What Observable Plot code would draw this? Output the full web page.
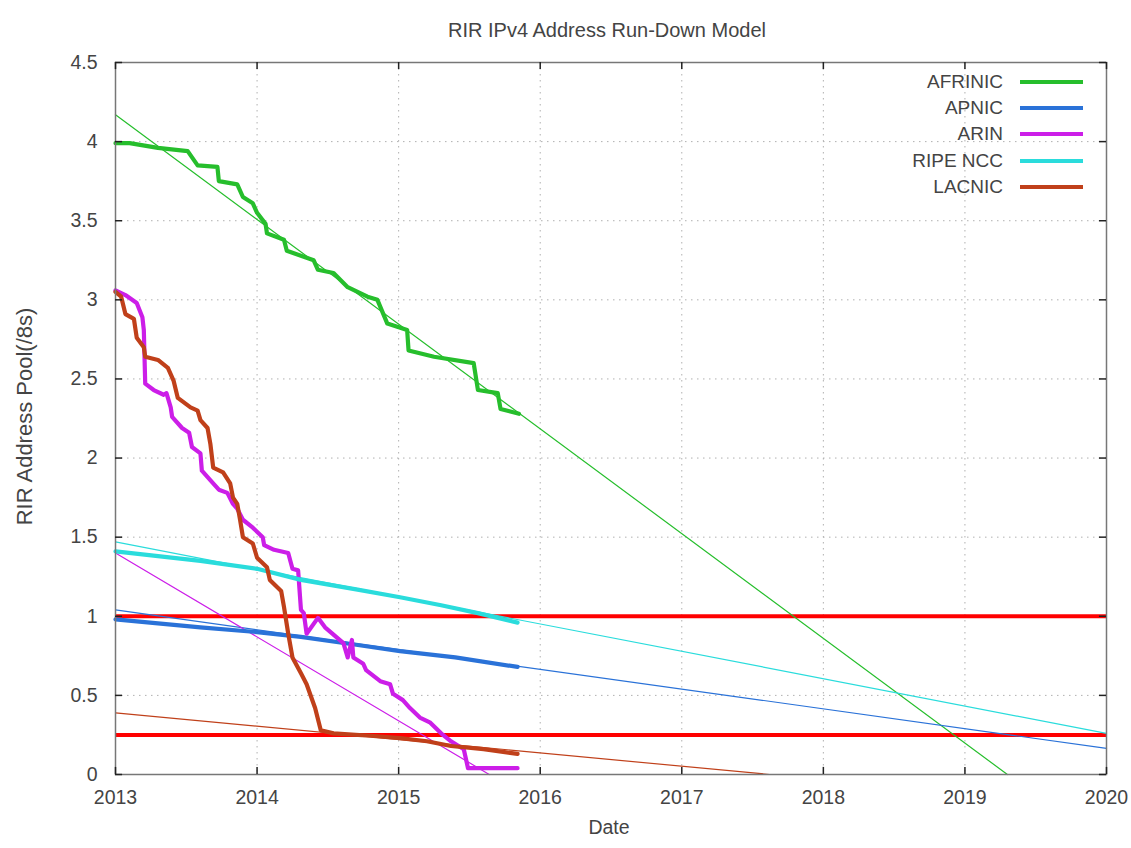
<!DOCTYPE html>
<html>
<head>
<meta charset="utf-8">
<script src="https://cdn.jsdelivr.net/npm/d3@7"></script>
<script src="https://cdn.jsdelivr.net/npm/@observablehq/plot@0.6"></script>
<style>
  body { margin: 0; background: #fff; }
  #wrap { position: relative; width: 1131px; height: 848px; font-family: "Liberation Sans", Arial, sans-serif; }
  .legrow { position: absolute; left: 880px; width: 210px; height: 26px; display: flex; align-items: center; }
  .leglab { width: 123px; text-align: right; font-size: 19px; color: #444; }
  .legline { margin-left: 17px; width: 63px; height: 4px; }
</style>
</head>
<body>
<div id="wrap"></div>
<script>
// ---- Data ----
const title = "RIR IPv4 Address Run-Down Model";
const yLabel = "RIR Address Pool(/8s)";
const xLabel = "Date";

const seriesNames = ["AFRINIC", "APNIC", "ARIN", "RIPE NCC", "LACNIC"];
const seriesColors = ["#26be2c", "#2a72d8", "#cc1ee8", "#2adcdc", "#c0401a"];

const xTickYears = [2013, 2014, 2015, 2016, 2017, 2018, 2019, 2020];
const yTickValues = [0, 0.5, 1, 1.5, 2, 2.5, 3, 3.5, 4, 4.5];
const thresholdLevels = [1, 0.25];

// AFRINIC actual pool
const afrinicYear = [2013.00, 2013.10, 2013.30, 2013.51, 2013.58, 2013.72, 2013.73, 2013.86, 2013.90, 2013.97, 2014.00, 2014.06, 2014.07, 2014.19, 2014.21, 2014.40, 2014.43, 2014.54, 2014.64, 2014.78, 2014.85, 2014.92, 2015.06, 2015.07, 2015.25, 2015.53, 2015.56, 2015.70, 2015.72, 2015.85];
const afrinicPool = [3.99, 3.99, 3.96, 3.94, 3.85, 3.84, 3.75, 3.73, 3.65, 3.61, 3.55, 3.48, 3.42, 3.38, 3.31, 3.25, 3.19, 3.17, 3.08, 3.02, 3.00, 2.85, 2.81, 2.68, 2.64, 2.60, 2.43, 2.41, 2.31, 2.28];

// APNIC actual pool
const apnicYear = [2013.00, 2013.30, 2013.60, 2014.00, 2014.31, 2014.70, 2015.01, 2015.40, 2015.84];
const apnicPool = [0.98, 0.955, 0.93, 0.90, 0.87, 0.82, 0.78, 0.74, 0.68];

// ARIN actual pool
const arinYear = [2013.00, 2013.07, 2013.15, 2013.19, 2013.20, 2013.21, 2013.27, 2013.34, 2013.36, 2013.39, 2013.40, 2013.47, 2013.52, 2013.54, 2013.60, 2013.61, 2013.69, 2013.73, 2013.79, 2013.83, 2013.86, 2013.90, 2013.97, 2014.04, 2014.05, 2014.12, 2014.22, 2014.25, 2014.29, 2014.31, 2014.33, 2014.35, 2014.43, 2014.48, 2014.61, 2014.64, 2014.67, 2014.68, 2014.75, 2014.77, 2014.87, 2014.94, 2014.96, 2015.03, 2015.08, 2015.15, 2015.22, 2015.30, 2015.37, 2015.46, 2015.49, 2015.67, 2015.84];
const arinPool = [3.06, 3.03, 2.98, 2.89, 2.81, 2.47, 2.43, 2.40, 2.41, 2.32, 2.26, 2.19, 2.16, 2.07, 2.03, 1.92, 1.84, 1.80, 1.78, 1.71, 1.68, 1.61, 1.56, 1.50, 1.45, 1.42, 1.40, 1.30, 1.29, 1.04, 1.02, 0.89, 0.99, 0.93, 0.83, 0.74, 0.85, 0.74, 0.70, 0.66, 0.59, 0.57, 0.51, 0.47, 0.42, 0.36, 0.33, 0.26, 0.21, 0.16, 0.04, 0.04, 0.04];

// RIPE NCC actual pool
const ripeYear = [2013.00, 2013.30, 2013.60, 2014.00, 2014.31, 2014.70, 2015.01, 2015.30, 2015.56, 2015.84];
const ripePool = [1.41, 1.38, 1.35, 1.30, 1.23, 1.17, 1.12, 1.07, 1.02, 0.96];

// LACNIC actual pool
const lacnicYear = [2013.00, 2013.04, 2013.07, 2013.13, 2013.15, 2013.20, 2013.21, 2013.30, 2013.37, 2013.41, 2013.44, 2013.53, 2013.58, 2013.60, 2013.65, 2013.67, 2013.69, 2013.76, 2013.81, 2013.83, 2013.86, 2013.88, 2013.90, 2013.97, 2014.00, 2014.07, 2014.09, 2014.17, 2014.19, 2014.22, 2014.25, 2014.31, 2014.35, 2014.41, 2014.45, 2014.54, 2014.80, 2015.01, 2015.20, 2015.37, 2015.60, 2015.84];
const lacnicPool = [3.05, 3.02, 2.91, 2.88, 2.76, 2.70, 2.64, 2.62, 2.57, 2.49, 2.38, 2.32, 2.30, 2.24, 2.19, 2.09, 1.94, 1.91, 1.84, 1.75, 1.71, 1.61, 1.50, 1.46, 1.37, 1.31, 1.23, 1.16, 1.06, 0.89, 0.74, 0.64, 0.57, 0.42, 0.28, 0.26, 0.245, 0.23, 0.21, 0.18, 0.16, 0.13];

// Linear run-down model lines (start / end)
const afrinicFitYear = [2013, 2019.3];
const afrinicFitPool = [4.17, 0];
const apnicFitYear = [2013, 2020];
const apnicFitPool = [1.04, 0.165];
const arinFitYear = [2013, 2015.64];
const arinFitPool = [1.40, 0];
const ripeFitYear = [2013, 2020];
const ripeFitPool = [1.47, 0.26];
const lacnicFitYear = [2013, 2017.62];
const lacnicFitPool = [0.39, 0];

// ---- Build tables ----
const zip = (xs, ys) => xs.map((x, i) => ({year: x, pool: ys[i]}));
const actual = [
  zip(afrinicYear, afrinicPool),
  zip(apnicYear, apnicPool),
  zip(arinYear, arinPool),
  zip(ripeYear, ripePool),
  zip(lacnicYear, lacnicPool)
];
const fits = [
  zip(afrinicFitYear, afrinicFitPool),
  zip(apnicFitYear, apnicFitPool),
  zip(arinFitYear, arinFitPool),
  zip(ripeFitYear, ripeFitPool),
  zip(lacnicFitYear, lacnicFitPool)
];

const x0 = xTickYears[0], x1 = xTickYears[xTickYears.length - 1];
const y0 = yTickValues[0], y1 = yTickValues[yTickValues.length - 1];
const tickLenX = 0.05, tickLenY = 0.045;
const inner = (arr) => arr.slice(1, -1);

const font = "'Liberation Sans', Arial, sans-serif";

const chart = Plot.plot({
  width: 1131,
  height: 848,
  marginLeft: 115,
  marginRight: 25,
  marginTop: 62,
  marginBottom: 74,
  style: {fontFamily: font, background: "white", color: "#444"},
  x: {domain: [x0, x1], label: null},
  y: {domain: [y0, y1], label: null},
  marks: [
    // dotted grid
    Plot.ruleX(inner(xTickYears), {stroke: "#b0b0b0", strokeWidth: 1, strokeDasharray: "1.5,4.5"}),
    Plot.ruleY(inner(yTickValues), {stroke: "#b0b0b0", strokeWidth: 1, strokeDasharray: "1.5,4.5"}),
    // threshold lines
    Plot.ruleY(thresholdLevels, {stroke: "#ff0000", strokeWidth: 4}),
    // model lines
    ...fits.map((d, i) => Plot.line(d, {x: "year", y: "pool", stroke: seriesColors[i], strokeWidth: 1.2})),
    // actual pools
    ...actual.map((d, i) => Plot.line(d, {x: "year", y: "pool", stroke: seriesColors[i], strokeWidth: 4.2, strokeLinejoin: "round"})),
    // frame
    Plot.frame({stroke: "#777", strokeWidth: 1.5}),
    // inward ticks
    Plot.ruleY(yTickValues, {x1: x0, x2: x0 + tickLenX, stroke: "#222", strokeWidth: 1.5}),
    Plot.ruleY(yTickValues, {x1: x1 - tickLenX, x2: x1, stroke: "#222", strokeWidth: 1.5}),
    Plot.ruleX(xTickYears, {y1: y0, y2: y0 + tickLenY, stroke: "#222", strokeWidth: 1.5}),
    Plot.ruleX(xTickYears, {y1: y1 - tickLenY, y2: y1, stroke: "#222", strokeWidth: 1.5}),
    // axes labels
    Plot.axisX(xTickYears, {tickSize: 0, tickPadding: 16, tickFormat: (d) => String(d), fontSize: 19.5, fill: "#444", label: null}),
    Plot.axisY(yTickValues, {tickSize: 0, tickPadding: 18, tickFormat: (d) => String(d), fontSize: 19.5, fill: "#444", label: null}),
    // titles
    Plot.text([title], {frameAnchor: "top", textAnchor: "middle", dy: -40, dx: -4, fontSize: 20, fill: "#444"}),
    Plot.text([yLabel], {frameAnchor: "left", textAnchor: "middle", rotate: -90, dx: -91, dy: -2, fontSize: 22, fill: "#444"}),
    Plot.text([xLabel], {frameAnchor: "bottom", textAnchor: "middle", dy: 59, dx: -2, fontSize: 19.5, fill: "#444"})
  ]
});

const wrap = document.getElementById("wrap");
wrap.appendChild(chart);

// legend (inside the plot, top right)
seriesNames.forEach((name, i) => {
  const row = document.createElement("div");
  row.className = "legrow";
  row.style.top = (69 + i * 26.2) + "px";
  const lab = document.createElement("div");
  lab.className = "leglab";
  lab.textContent = name;
  const line = document.createElement("div");
  line.className = "legline";
  line.style.background = seriesColors[i];
  row.appendChild(lab);
  row.appendChild(line);
  wrap.appendChild(row);
});
</script>
</body>
</html>
